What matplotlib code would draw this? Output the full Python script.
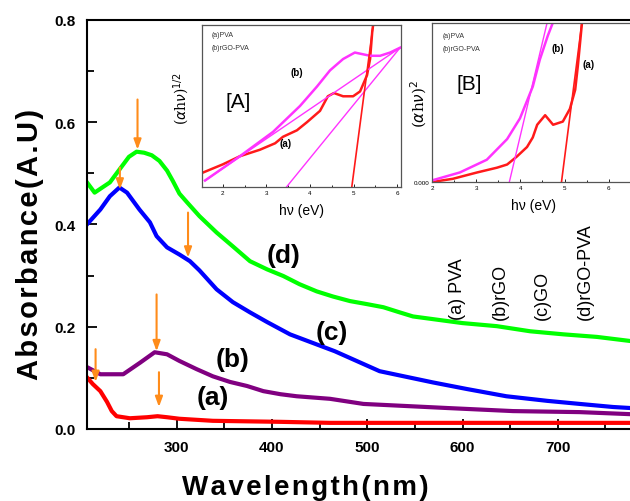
import matplotlib as mpl
import matplotlib.pyplot as plt
import numpy as np
from matplotlib.ticker import MultipleLocator

mpl.rcParams["font.family"] = ["Liberation Sans", "DejaVu Sans"]
mpl.rcParams["xtick.direction"] = "in"
mpl.rcParams["ytick.direction"] = "in"

# ---------------- main spectra (wavelength nm, absorbance) ----------------
wl_a = [206, 212, 220, 227, 232, 237, 251, 269, 280, 290, 303, 338, 409, 461, 550, 650, 741, 776]
abs_a = [0.101, 0.088, 0.074, 0.053, 0.035, 0.025, 0.021, 0.023, 0.025, 0.023, 0.020, 0.016, 0.014, 0.012, 0.012, 0.012, 0.012, 0.012]

wl_b = [206, 220, 244, 262, 277, 290, 303, 321, 338, 356, 374, 391, 409, 426, 461, 496, 584, 653, 723, 776]
abs_b = [0.121, 0.107, 0.107, 0.130, 0.150, 0.146, 0.133, 0.117, 0.103, 0.092, 0.084, 0.074, 0.068, 0.064, 0.059, 0.049, 0.041, 0.035, 0.033, 0.029]

wl_c = [206, 220, 230, 240, 248, 261, 272, 279, 290, 303, 314, 324, 342, 359, 377, 395, 419, 466, 513, 569, 605, 646, 689, 723, 758, 776]
abs_c = [0.400, 0.429, 0.455, 0.472, 0.462, 0.429, 0.404, 0.377, 0.355, 0.341, 0.328, 0.310, 0.273, 0.248, 0.228, 0.209, 0.185, 0.152, 0.113, 0.091, 0.078, 0.064, 0.055, 0.049, 0.043, 0.041]

wl_d = [206, 214, 230, 240, 250, 258, 266, 274, 282, 290, 296, 303, 311, 324, 342, 359, 377, 395, 412, 429, 447, 464, 482, 500, 517, 534, 548, 600, 636, 671, 706, 741, 776]
abs_d = [0.482, 0.462, 0.482, 0.507, 0.532, 0.542, 0.540, 0.535, 0.524, 0.505, 0.485, 0.460, 0.443, 0.416, 0.384, 0.357, 0.328, 0.312, 0.299, 0.283, 0.269, 0.259, 0.250, 0.244, 0.238, 0.228, 0.220, 0.207, 0.201, 0.191, 0.185, 0.180, 0.172]

# arrows marking peaks: x, y start, y end
arrow_x = [259, 240.5, 312, 279, 215, 281.5]
arrow_y0 = [0.644, 0.511, 0.423, 0.263, 0.156, 0.111]
arrow_y1 = [0.546, 0.468, 0.335, 0.152, 0.092, 0.043]

# ---------------- inset A: (alpha h nu)^1/2 vs h nu ----------------
ev_A_a = [1.55, 2.0, 2.39, 2.85, 3.2, 3.38, 3.7, 3.93, 4.23, 4.41, 4.55, 4.76, 4.99, 5.15, 5.31, 5.38, 5.43, 5.46]
val_A_a = [0.09, 0.14, 0.19, 0.23, 0.27, 0.31, 0.35, 0.40, 0.47, 0.56, 0.58, 0.56, 0.56, 0.59, 0.69, 0.79, 0.96, 1.02]
ev_A_b = [1.59, 2.39, 3.15, 3.77, 4.16, 4.46, 4.76, 5.03, 5.38, 5.61, 5.84, 6.07]
val_A_b = [0.04, 0.19, 0.34, 0.50, 0.62, 0.72, 0.79, 0.83, 0.81, 0.81, 0.83, 0.86]
fit_A = {"b1": ([1.59, 6.07], [0.04, 0.86]), "b2": ([3.46, 6.07], [0.0, 0.86]), "a": ([4.96, 5.46], [0.0, 1.02])}

# ---------------- inset B: (alpha h nu)^2 vs h nu ----------------
ev_B_a = [2.0, 2.47, 3.02, 3.47, 3.70, 3.92, 4.15, 4.28, 4.38, 4.56, 4.74, 4.96, 5.12, 5.24, 5.30, 5.40]
val_B_a = [0.0, 0.02, 0.06, 0.09, 0.11, 0.16, 0.22, 0.28, 0.36, 0.42, 0.36, 0.38, 0.46, 0.58, 0.73, 1.02]
ev_B_b = [2.0, 2.63, 3.24, 3.70, 3.99, 4.28, 4.44, 4.62, 4.76]
val_B_b = [0.01, 0.06, 0.14, 0.27, 0.40, 0.60, 0.77, 0.92, 1.02]
fit_B = {"b": ([3.75, 4.62], [0.0, 1.02]), "a": ([4.93, 5.40], [0.0, 1.02])}

c_a, c_b, c_c, c_d = "#FF0000", "#800080", "#0000FF", "#00FF00"
c_arrow = "#FF8C1A"
c_ia, c_ib = "#FF1A1A", "#FF33FF"

def spaced(s):
  # hair spaces between letters, like the wide tracking of the original labels
  return "\u200a".join(s)

fig = plt.figure(figsize=(6.3, 5.02), dpi=100)
ax = fig.add_axes([87 / 630, 1 - 430 / 502, 556.6 / 630, 409.3 / 502])

ax.plot(wl_a, abs_a, color=c_a, lw=3)
ax.plot(wl_b, abs_b, color=c_b, lw=3)
ax.plot(wl_c, abs_c, color=c_c, lw=3)
ax.plot(wl_d, abs_d, color=c_d, lw=3)

for x, y0, y1 in zip(arrow_x, arrow_y0, arrow_y1):
  ax.annotate("", xy=(x, y1), xytext=(x, y0),
              arrowprops=dict(arrowstyle="-|>,head_length=0.6,head_width=0.22", color=c_arrow, lw=1.5, shrinkA=0, shrinkB=0))

ax.set_xlim(206, 790)
ax.set_ylim(0, 0.8)
ax.xaxis.set_minor_locator(MultipleLocator(50))
ax.yaxis.set_minor_locator(MultipleLocator(0.1))
ax.set_yticks([0, 0.2, 0.4, 0.6, 0.8])
ax.set_yticklabels(["0.0", "0.2", "0.4", "0.6", "0.8"])
ax.set_xticks([300, 400, 500, 600, 700])
ax.tick_params(which="major", length=7, width=1.3, labelsize=11, pad=8)
ax.tick_params(which="minor", length=5, width=1.3)
for lab in ax.get_xticklabels() + ax.get_yticklabels():
  lab.set_fontweight("bold")
for sp in ax.spines.values():
  sp.set_linewidth(1.5)

fig.text(30 / 630, 1 - 244 / 502, spaced("Absorbance(A.U)"), fontsize=21, fontweight="bold",
         rotation=90, ha="center", va="center")
fig.text(305 / 630, 1 - 488 / 502, spaced("Wavelength(nm)"), fontsize=20, fontweight="bold", ha="center", va="center")

# curve labels
curve_labels = ["(a)", "(b)", "(c)", "(d)"]
label_x = [338, 359, 463, 412]
label_y = [0.062, 0.137, 0.19, 0.34]
for t, x, y in zip(curve_labels, label_x, label_y):
  ax.text(x, y, t, fontsize=19, fontweight="bold", ha="center", va="center")

# vertical sample key
key_text = ["(a) PVA", "(b)rGO", "(c)GO", "(d)rGO-PVA"]
key_px = [458, 500, 542, 585]
for t, px in zip(key_text, key_px):
  fig.text(px / 630, 1 - 320 / 502, t, rotation=90, fontsize=13, ha="center", va="bottom")

# ---------------- inset A ----------------
axA = fig.add_axes([202 / 630, 1 - 188 / 502, 199 / 630, 162 / 502])
axA.plot(ev_A_a, val_A_a, color=c_ia, lw=1.8)
axA.plot(ev_A_b, val_A_b, color=c_ib, lw=1.8)
axA.plot(*fit_A["b1"], color=c_ib, lw=1.0)
axA.plot(*fit_A["b2"], color=c_ib, lw=1.0)
axA.plot(*fit_A["a"], color=c_ia, lw=1.2)
axA.set_xlim(1.52, 6.09)
axA.set_ylim(0, 1)
axA.set_xticks([2, 3, 4, 5, 6])
axA.xaxis.set_minor_locator(MultipleLocator(0.5))
axA.set_yticks([])
axA.tick_params(labelsize=4.5, length=2, width=0.6, pad=2)
axA.tick_params(which="minor", length=1.5, width=0.6)
for sp in axA.spines.values():
  sp.set_linewidth(0.9)
  sp.set_color("#555555")
axA.set_xlabel("h\u03bd (eV)", fontsize=10, labelpad=6)
axA.set_ylabel(r"($\alpha$h$\nu$)$^{1/2}$", fontsize=10, family="DejaVu Serif")
axA.yaxis.set_label_coords(-0.05, 0.55)
axA.text(0.05, 0.94, "(a)PVA", transform=axA.transAxes, fontsize=5, color="#333333", va="center")
axA.text(0.05, 0.86, "(b)rGO-PVA", transform=axA.transAxes, fontsize=5, color="#333333", va="center")
axA.text(0.12, 0.53, "[A]", transform=axA.transAxes, fontsize=15, va="center")
axA.text(3.7, 0.71, "(b)", fontsize=7, fontweight="bold", ha="center", va="center")
axA.text(3.45, 0.27, "(a)", fontsize=7, fontweight="bold", ha="center", va="center")

# ---------------- inset B ----------------
axB = fig.add_axes([432 / 630, 1 - 183 / 502, 203.3 / 630, 159 / 502])
axB.plot(ev_B_a, val_B_a, color=c_ia, lw=1.8)
axB.plot(ev_B_b, val_B_b, color=c_ib, lw=1.8)
axB.plot(*fit_B["b"], color=c_ib, lw=1.0)
axB.plot(*fit_B["a"], color=c_ia, lw=1.2)
axB.set_xlim(2, 6.6)
axB.set_ylim(0, 1)
axB.set_xticks([2, 3, 4, 5, 6])
axB.xaxis.set_minor_locator(MultipleLocator(0.5))
axB.set_yticks([0])
axB.set_yticklabels(["0.000"])
axB.tick_params(labelsize=4.5, length=2, width=0.6, pad=2)
axB.tick_params(which="minor", length=1.5, width=0.6)
for sp in axB.spines.values():
  sp.set_linewidth(0.9)
  sp.set_color("#555555")
axB.set_xlabel("h\u03bd (eV)", fontsize=10, labelpad=6)
axB.set_ylabel(r"($\alpha$h$\nu$)$^{2}$", fontsize=11, family="DejaVu Serif")
axB.yaxis.set_label_coords(-0.015, 0.5)
axB.text(0.05, 0.92, "(a)PVA", transform=axB.transAxes, fontsize=5, color="#333333", va="center")
axB.text(0.05, 0.84, "(b)rGO-PVA", transform=axB.transAxes, fontsize=5, color="#333333", va="center")
axB.text(0.12, 0.62, "[B]", transform=axB.transAxes, fontsize=15, va="center")
axB.text(4.85, 0.84, "(b)", fontsize=7, fontweight="bold", ha="center", va="center")
axB.text(5.55, 0.74, "(a)", fontsize=7, fontweight="bold", ha="center", va="center")

fig.savefig("out.png", dpi=100)
